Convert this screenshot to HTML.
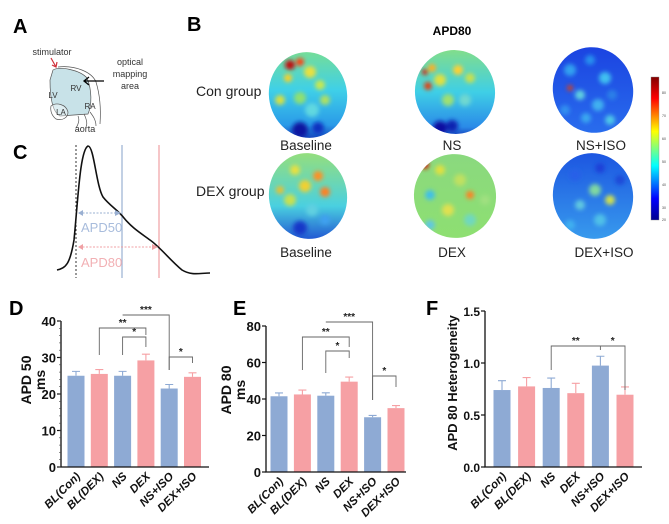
<!DOCTYPE html>
<html><head><meta charset="utf-8"><style>
html,body{margin:0;padding:0;background:#fff;}
svg{display:block;font-family:"Liberation Sans",Arial,sans-serif;}
</style></head><body>
<svg id="fig" width="669" height="524" viewBox="0 0 669 524" xmlns="http://www.w3.org/2000/svg">
<defs>
  <filter id="blur" x="-20%" y="-20%" width="140%" height="140%"><feGaussianBlur stdDeviation="2.2"/></filter>
  <clipPath id="c1"><ellipse cx="308" cy="95" rx="39" ry="43" transform="rotate(-12 308 95)"/></clipPath>
  <clipPath id="c2"><ellipse cx="455" cy="92" rx="40" ry="42" transform="rotate(-10 455 92)"/></clipPath>
  <clipPath id="c3"><ellipse cx="593" cy="90" rx="40" ry="43" transform="rotate(-15 593 90)"/></clipPath>
  <clipPath id="c4"><ellipse cx="308" cy="196" rx="39" ry="43" transform="rotate(-10 308 196)"/></clipPath>
  <clipPath id="c5"><ellipse cx="455" cy="196" rx="41" ry="42" transform="rotate(-15 455 196)"/></clipPath>
  <clipPath id="c6"><ellipse cx="593" cy="196" rx="40" ry="43" transform="rotate(-12 593 196)"/></clipPath>
  <linearGradient id="g1" x1="0" y1="0" x2="0" y2="1"><stop offset="0" stop-color="#7ee08a"/><stop offset="0.45" stop-color="#3fd0e8"/><stop offset="0.8" stop-color="#2a9ae8"/><stop offset="1" stop-color="#0a1aa8"/></linearGradient>
  <linearGradient id="g2" x1="0" y1="0" x2="0" y2="1"><stop offset="0" stop-color="#8ee07a"/><stop offset="0.5" stop-color="#3fcfe6"/><stop offset="0.85" stop-color="#2a8ae8"/><stop offset="1" stop-color="#0a10a0"/></linearGradient>
  <linearGradient id="g3" x1="0" y1="0" x2="0" y2="1"><stop offset="0" stop-color="#1a40e0"/><stop offset="1" stop-color="#2a70ee"/></linearGradient>
  <linearGradient id="g4" x1="0" y1="0" x2="0" y2="1"><stop offset="0" stop-color="#9ee070"/><stop offset="0.6" stop-color="#4ad0e0"/><stop offset="1" stop-color="#1a40d0"/></linearGradient>
  <linearGradient id="g5" x1="0" y1="0" x2="0" y2="1"><stop offset="0" stop-color="#8ad880"/><stop offset="1" stop-color="#8ee070"/></linearGradient>
  <linearGradient id="g6" x1="0" y1="0" x2="0" y2="1"><stop offset="0" stop-color="#1a50e0"/><stop offset="1" stop-color="#3aa0ee"/></linearGradient>
  <linearGradient id="cbar" x1="0" y1="1" x2="0" y2="0"><stop offset="0" stop-color="#00008f"/><stop offset="0.15" stop-color="#0000ff"/><stop offset="0.38" stop-color="#00ffff"/><stop offset="0.5" stop-color="#7fff7f"/><stop offset="0.62" stop-color="#ffff00"/><stop offset="0.85" stop-color="#ff0000"/><stop offset="1" stop-color="#800000"/></linearGradient>
</defs>

<!-- Panel A -->
<text x="13" y="33" font-size="20" font-weight="bold">A</text>
<g>
  <path d="M53,70 C60,66 80,70 87,78 C92,90 92,105 88,114 L60,116 C52,112 50,95 50,80 Z" fill="#c8e2e8" stroke="#555" stroke-width="0.7"/>
  <path d="M58,67 C75,65 92,72 96,82 C100,95 101,110 100,124" fill="none" stroke="#555" stroke-width="0.7"/>
  <path d="M51,106 C56,102 66,104 68,112 C68,118 62,121 56,119 C52,116 50,111 51,106 Z" fill="#fff" fill-opacity="0.4" stroke="#555" stroke-width="0.7"/>
  <path d="M78,116 C80,120 78,125 76,128 M84,114 C86,118 88,123 86,127 M90,112 C93,116 96,120 96,126" fill="none" stroke="#555" stroke-width="0.7"/>
  <text x="53" y="98" font-size="8" fill="#333" text-anchor="middle">LV</text>
  <text x="76" y="91" font-size="8" fill="#333" text-anchor="middle">RV</text>
  <text x="90" y="109" font-size="8" fill="#333" text-anchor="middle">RA</text>
  <text x="61" y="115" font-size="8" fill="#333" text-anchor="middle">LA</text>
  <text x="85" y="132" font-size="9" fill="#333" text-anchor="middle">aorta</text>
  <text x="52" y="55" font-size="9" fill="#333" text-anchor="middle">stimulator</text>
  <path d="M51,58 L56,67 M52,65 L56,67 L57,62" fill="none" stroke="#d0303a" stroke-width="1.2"/>
  <text x="130" y="65" font-size="9" fill="#333" text-anchor="middle">optical</text>
  <text x="130" y="77" font-size="9" fill="#333" text-anchor="middle">mapping</text>
  <text x="130" y="89" font-size="9" fill="#333" text-anchor="middle">area</text>
  <path d="M104,81 L84,81 M89,77 L84,81 L89,85" fill="none" stroke="#000" stroke-width="1.3"/>
</g>

<!-- Panel C -->
<text x="13" y="159" font-size="20" font-weight="bold">C</text>
<g>
  <line x1="76" y1="145" x2="76" y2="278" stroke="#000" stroke-width="0.8" stroke-dasharray="2,2"/>
  <line x1="122" y1="145" x2="122" y2="278" stroke="#9ab0d2" stroke-width="1.2"/>
  <line x1="159" y1="145" x2="159" y2="278" stroke="#f0a0a4" stroke-width="1.2"/>
  <path d="M57,270 C66,268 70,264 74,240 C78,200 80,150 88,146 C94,146 96,185 103,197 C110,206 118,210 124,218 C132,228 142,234 150,240 C160,247 170,260 182,270 C192,276 200,273 210,273" fill="none" stroke="#111" stroke-width="1.6"/>
  <line x1="79" y1="213" x2="119" y2="213" stroke="#9ab0d2" stroke-width="1" stroke-dasharray="2,1.5"/>
  <path d="M83,210 L78,213 L83,216 Z M115,210 L121,213 L115,216 Z" fill="#9ab0d2"/>
  <text x="81" y="232" font-size="13" fill="#a8bcdc">APD50</text>
  <line x1="79" y1="247" x2="156" y2="247" stroke="#f0a0a4" stroke-width="1" stroke-dasharray="2,1.5"/>
  <path d="M83,244 L78,247 L83,250 Z M152,244 L158,247 L152,250 Z" fill="#f0a0a4"/>
  <text x="81" y="267" font-size="13" fill="#f2b0b4">APD80</text>
</g>

<!-- Panel B -->
<text x="187" y="31" font-size="20" font-weight="bold">B</text>
<text x="452" y="35" font-size="12" font-weight="bold" text-anchor="middle">APD80</text>
<text x="196" y="96" font-size="14" fill="#222">Con group</text>
<text x="196" y="196" font-size="14" fill="#222">DEX group</text>
<g id="maps"></g>
<text x="306" y="150" font-size="13.5" fill="#222" text-anchor="middle">Baseline</text>
<text x="452" y="150" font-size="13.5" fill="#222" text-anchor="middle">NS</text>
<text x="601" y="150" font-size="13.5" fill="#222" text-anchor="middle">NS+ISO</text>
<text x="306" y="257" font-size="13.5" fill="#222" text-anchor="middle">Baseline</text>
<text x="452" y="257" font-size="13.5" fill="#222" text-anchor="middle">DEX</text>
<text x="604" y="257" font-size="13.5" fill="#222" text-anchor="middle">DEX+ISO</text>
<rect x="651" y="77" width="8" height="143" fill="url(#cbar)" stroke="#888" stroke-width="0.4"/>
<g font-size="3.5" fill="#444">
  <text x="662" y="94">80</text><text x="662" y="117">70</text><text x="662" y="140">60</text><text x="662" y="163">50</text><text x="662" y="186">40</text><text x="662" y="209">30</text><text x="662" y="221">20</text>
</g>

<!-- Bar panels -->
<text x="9" y="315" font-size="20" font-weight="bold">D</text>
<text x="233" y="315" font-size="20" font-weight="bold">E</text>
<text x="426" y="315" font-size="20" font-weight="bold">F</text>
<g id="charts"></g>
</svg>
<script>
const categories = ["BL(Con)","BL(DEX)","NS","DEX","NS+ISO","DEX+ISO"];
const apd50Values = [25, 25.5, 25, 29.2, 21.5, 24.7];
const apd50Errors = [1.2, 1.2, 1.2, 1.7, 1.1, 1.1];
const apd80Values = [41.5, 42.5, 41.8, 49.5, 30, 35];
const apd80Errors = [1.8, 2.4, 1.6, 2.5, 1.0, 1.4];
const hetValues = [0.74, 0.775, 0.76, 0.71, 0.975, 0.695];
const hetErrors = [0.09, 0.085, 0.095, 0.095, 0.09, 0.075];
const apd50Ticks = [0, 10, 20, 30, 40];
const apd80Ticks = [0, 20, 40, 60, 80];
const hetTicks = ["0.0", "0.5", "1.0", "1.5"];
const apd50Sig = [[1,3,"**",328,355,335],[2,3,"*",337,355,347],[2,4,"***",315,null,370],[4,5,"*",357,370,363]];
const apd80Sig = [[1,3,"**",337,370,347],[2,3,"*",351,373,358],[2,4,"***",322,null,400],[4,5,"*",376,400,387]];
const hetSig = [[2,4,"**",346,370,350],[4,5,"*",346,null,390]];

const NS = "http://www.w3.org/2000/svg";
function mk(tag, attrs, parent) {
  const e = document.createElementNS(NS, tag);
  for (const k in attrs) e.setAttribute(k, attrs[k]);
  parent.appendChild(e);
  return e;
}
const charts = document.getElementById('charts');
const BLUE = "#8eaad4", PINK = "#f6a0a4";

function drawChart(cfg) {
  const g = mk('g', {}, charts);
  
  
  const y = v => cfg.y0 + (v - cfg.vmin) / (cfg.vmax - cfg.vmin) * (cfg.y1 - cfg.y0);
  const x = i => cfg.x0 + cfg.step * i;
  cfg.values.forEach((v, i) => {
    const cx = x(i), col = i % 2 ? PINK : BLUE;
    const top = y(v + cfg.errors[i]);
    const eb = mk('path', {d: `M${cx},${y(v)} L${cx},${top} M${cx-4},${top} L${cx+4},${top}`, stroke: col, 'stroke-width': 1.1, fill: 'none'}, g);
    
    
    const r = mk('rect', {x: cx - cfg.bw/2, y: y(v), width: cfg.bw, height: y(cfg.vmin) - y(v), fill: col}, g);
    
    
    const t = mk('text', {x: cx + 5, y: y(cfg.vmin) + 10, 'font-size': 11.5, 'font-weight': 'bold', 'font-style': 'italic', 'text-anchor': 'end', transform: `rotate(-45 ${cx+5} ${y(cfg.vmin)+10})`, fill: '#111'}, g);
    t.textContent = categories[i];
    
    
  });
  const ax = mk('path', {d: `M${cfg.ax},${y(cfg.vmax)} L${cfg.ax},${y(cfg.vmin)} L${cfg.axEnd},${y(cfg.vmin)}`, stroke: '#111', 'stroke-width': 1.3, fill: 'none'}, g);
  
  
  cfg.ticks.forEach(tv => {
    const v = parseFloat(tv);
    mk('line', {x1: cfg.ax - 4, x2: cfg.ax, y1: y(v), y2: y(v), stroke: '#111', 'stroke-width': 1.2}, g);
    const t = mk('text', {x: cfg.ax - 5, y: y(v) + 5, 'font-size': cfg.tickFont, 'font-weight': 'bold', 'text-anchor': 'end', fill: '#111'}, g);
    t.textContent = tv;
    
    
  });
  if (cfg.minor) {
    for (let v = cfg.vmin; v <= cfg.vmax; v += cfg.minor)
      mk('line', {x1: cfg.ax - 2, x2: cfg.ax, y1: y(v), y2: y(v), stroke: '#444', 'stroke-width': 0.6}, g);
  }
  cfg.title.forEach((line, k) => {
    const tx = cfg.tx + k * 14;
    const t = mk('text', {x: tx, y: cfg.ty, 'font-size': cfg.titleFont, 'font-weight': 'bold', 'text-anchor': 'middle', transform: `rotate(-90 ${tx} ${cfg.ty})`, fill: '#111'}, g);
    t.textContent = line;
    
    
  });
  cfg.sig.forEach(s => {
    const [a, b, lab, top, l, r] = s;
    let d = `M${x(a)},${top} L${x(b)},${top}`;
    if (l !== null) d = `M${x(a)},${l} L${x(a)},${top} L${x(b)},${top}`;
    if (r !== null) d += ` L${x(b)},${r}`;
    const p = mk('path', {d, stroke: '#666', 'stroke-width': 0.9, fill: 'none'}, g);
    
    
    const t = mk('text', {x: (x(a) + x(b)) / 2, y: top - 2, 'font-size': 10, 'font-weight': 'bold', 'text-anchor': 'middle', fill: '#222'}, g);
    t.textContent = lab;
    
    
  });
}
drawChart({name:'apd50-chart', values:apd50Values, errors:apd50Errors, ticks:apd50Ticks.map(String), vmin:0, vmax:40, y0:467, y1:321, x0:76, step:23.3, bw:17, ax:61, axEnd:209, minor:2, title:["APD 50","ms"], tx:31, ty:380, tickFont:13, titleFont:14, sig:apd50Sig});
drawChart({name:'apd80-chart', values:apd80Values, errors:apd80Errors, ticks:apd80Ticks.map(String), vmin:0, vmax:80, y0:472, y1:326, x0:279, step:23.4, bw:17, ax:266, axEnd:406, minor:null, title:["APD 80","ms"], tx:231, ty:390, tickFont:13, titleFont:14, sig:apd80Sig});
drawChart({name:'heterogeneity-chart', values:hetValues, errors:hetErrors, ticks:hetTicks, vmin:0, vmax:1.5, y0:467, y1:311, x0:502, step:24.6, bw:17, ax:485, axEnd:642, minor:null, title:["APD 80 Heterogeneity"], tx:457, ty:383, tickFont:12, titleFont:13, sig:hetSig});

const maps = document.getElementById('maps');
const mapDefs = [
  {clip:'c1', grad:'g1', cx:308, cy:95, spots:[[290,65,5,'#c01010'],[300,62,4,'#ff4010'],[288,78,4,'#ffd020'],[310,72,6,'#e8e040'],[320,85,5,'#c8e850'],[300,98,6,'#90e070'],[280,100,5,'#d8e040'],[312,110,7,'#60d8e0'],[325,100,5,'#b0e060'],[300,130,8,'#0818a0'],[318,128,6,'#1030c0']]},
  {clip:'c2', grad:'g2', cx:455, cy:92, spots:[[425,72,3,'#d02010'],[432,68,4,'#ffb020'],[428,86,4,'#e04010'],[440,80,6,'#e0e040'],[458,70,5,'#ffd030'],[470,78,5,'#c8e050'],[448,100,6,'#a0e070'],[465,100,6,'#70d8d0'],[440,128,7,'#0810a0'],[452,126,6,'#1020b0']]},
  {clip:'c3', grad:'g3', cx:593, cy:90, spots:[[570,70,6,'#30a0f0'],[590,60,5,'#2890ee'],[605,78,6,'#40c0f0'],[580,95,5,'#60d0e0'],[598,105,6,'#40b0f0'],[612,95,5,'#2a80e8'],[586,118,5,'#3aa8f0'],[570,88,3,'#d04020'],[610,120,5,'#50c8e8'],[565,110,5,'#3090f0']]},
  {clip:'c4', grad:'g4', cx:308, cy:196, spots:[[295,170,5,'#e8e040'],[318,176,5,'#ff9020'],[305,186,6,'#f0d030'],[325,192,5,'#ff8020'],[290,200,6,'#c8e050'],[280,190,4,'#e8c030'],[312,210,6,'#60d0e0'],[300,228,7,'#1838c8'],[325,220,5,'#40a0f0']]},
  {clip:'c5', grad:'g5', cx:455, cy:196, spots:[[425,165,4,'#d02010'],[440,170,5,'#e0e040'],[460,180,6,'#c0e060'],[470,195,4,'#ff8020'],[430,195,5,'#40c0e8'],[448,210,6,'#e0e050'],[470,220,6,'#70d8c0'],[430,225,5,'#60c8e0'],[485,200,5,'#a0e080']]},
  {clip:'c6', grad:'g6', cx:593, cy:196, spots:[[575,175,6,'#2860e8'],[600,168,5,'#1a40d8'],[595,190,6,'#80d8a0'],[610,200,5,'#d0e050'],[580,205,5,'#60c8e0'],[600,220,6,'#50c0e8'],[570,225,5,'#40b0f0'],[620,180,5,'#1a48d8']]}
];
mapDefs.forEach((m, i) => {
  const g = mk('g', {'clip-path': `url(#${m.clip})`}, maps);
  
  
  mk('rect', {x: m.cx - 50, y: m.cy - 50, width: 100, height: 100, fill: `url(#${m.grad})`}, g);
  const s = mk('g', {filter: 'url(#blur)'}, g);
  m.spots.forEach(p => mk('circle', {cx: p[0], cy: p[1], r: p[2], fill: p[3]}, s));
});
</script>
</body></html>
